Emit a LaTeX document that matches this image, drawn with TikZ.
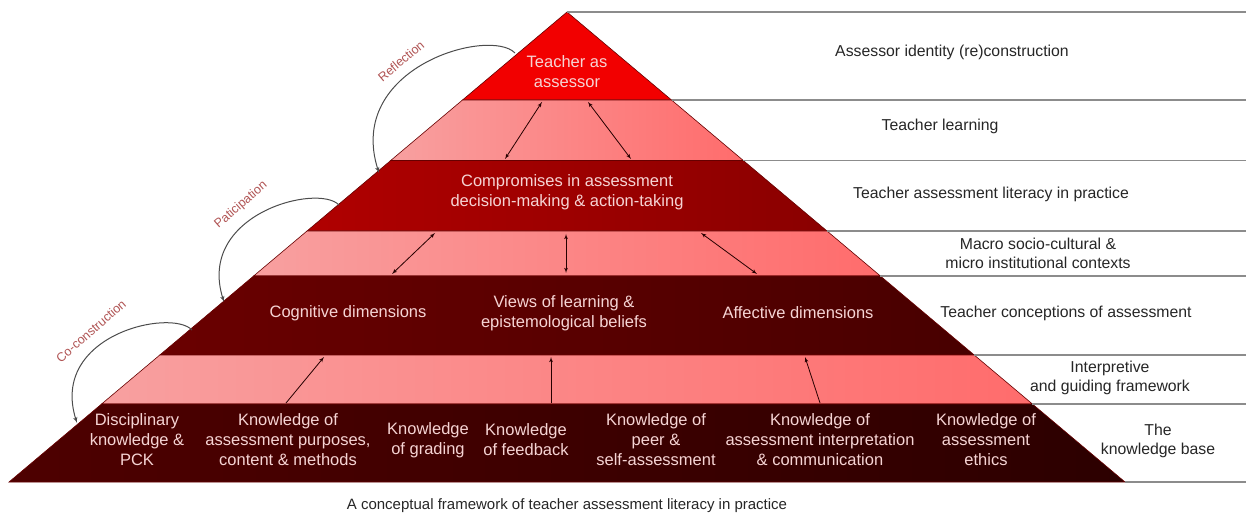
\documentclass[tikz,border=0pt]{standalone}
\usepackage{fontspec}
\setmainfont{Liberation Sans}
\usetikzlibrary{shapes,arrows,positioning}
\definecolor{peak}{RGB}{242,0,0}
\definecolor{pinkleft}{RGB}{248,160,160}
\definecolor{pinkright}{RGB}{255,108,108}
\definecolor{redleft}{RGB}{176,0,0}
\definecolor{redright}{RGB}{138,0,0}
\definecolor{darkleft}{RGB}{106,0,0}
\definecolor{darkright}{RGB}{72,0,0}
\definecolor{baseleft}{RGB}{78,0,0}
\definecolor{baseright}{RGB}{44,0,0}
\definecolor{innertext}{RGB}{246,212,212}
\definecolor{phasetext}{RGB}{176,84,84}
\tikzstyle{band} = [draw=black!60!red, line width=0.6pt]
\tikzstyle{layertext} = [text=innertext, align=center,
    font=\fontsize{16.5}{20}\selectfont]
\tikzstyle{sidetext} = [text=black!85, align=center,
    font=\fontsize{15.8}{19}\selectfont]
\tikzstyle{phaselabel} = [text=phasetext, font=\fontsize{12.5}{14}\selectfont]
\tikzstyle{rule} = [draw=black!45, line width=1.4pt]
\tikzstyle{twoway} = [draw=black!85!red, line width=0.8pt, latex'-latex']
\tikzstyle{line} = [draw=black!85!red, line width=0.8pt, -latex']
\tikzstyle{phaseline} = [draw=black!70, line width=1pt, -latex']
\begin{document}
\begin{tikzpicture}[x=1pt, y=1pt]
    \useasboundingbox (0,0) rectangle (1246,517);
    % Corners of the layers
    \coordinate (apex) at (567,505);
    \coordinate (l1) at (462.5,417); \coordinate (r1) at (671.5,417);
    \coordinate (l2) at (390.7,356.5); \coordinate (r2) at (743.3,356.5);
    \coordinate (l3) at (307,286); \coordinate (r3) at (827,286);
    \coordinate (l4) at (253.6,241); \coordinate (r4) at (880.4,241);
    \coordinate (l5) at (159.8,162); \coordinate (r5) at (974.2,162);
    \coordinate (l6) at (101.6,113); \coordinate (r6) at (1032.4,113);
    \coordinate (l7) at (9,35); \coordinate (r7) at (1125,35);
    \coordinate (edge) at (1246,0);
    % Draw layers
    \filldraw [band, fill=peak] (apex) -- (r1) -- (l1) -- cycle;
    \shadedraw [band, left color=pinkleft, right color=pinkright] (l1) -- (r1) -- (r2) -- (l2) -- cycle;
    \shadedraw [band, left color=redleft, right color=redright] (l2) -- (r2) -- (r3) -- (l3) -- cycle;
    \shadedraw [band, left color=pinkleft, right color=pinkright] (l3) -- (r3) -- (r4) -- (l4) -- cycle;
    \shadedraw [band, left color=darkleft, right color=darkright] (l4) -- (r4) -- (r5) -- (l5) -- cycle;
    \shadedraw [band, left color=pinkleft, right color=pinkright] (l5) -- (r5) -- (r6) -- (l6) -- cycle;
    \shadedraw [band, left color=baseleft, right color=baseright] (l6) -- (r6) -- (r7) -- (l7) -- cycle;
    % Rules to the right
    \draw [rule] (apex) -- (apex -| edge);
    \draw [rule] (r1) -- (r1 -| edge);
    \draw [rule] (r2) -- (r2 -| edge);
    \draw [rule] (r3) -- (r3 -| edge);
    \draw [rule] (r4) -- (r4 -| edge);
    \draw [rule] (r5) -- (r5 -| edge);
    \draw [rule] (r6) -- (r6 -| edge);
    \draw [rule] (r7) -- (r7 -| edge);
    % Place nodes
    \node [layertext] (assessor) at (567,445) {Teacher as\\assessor};
    \node [layertext] (compromise) at (567,325) {Compromises in assessment\\decision-making \& action-taking};
    \node [layertext] (cognitive) at (348,204) {Cognitive dimensions};
    \node [layertext, right of=cognitive, node distance=216pt] (views) {Views of learning \&\\epistemological beliefs};
    \node [layertext, right of=views, node distance=234pt] (affective) {Affective dimensions};
    \node [layertext] (disc) at (137,77) {Disciplinary\\knowledge \&\\PCK};
    \node [layertext, right of=disc, node distance=151pt] (purpose) {Knowledge of\\assessment purposes,\\content \& methods};
    \node [layertext, right of=purpose, node distance=140pt] (grading) {Knowledge\\of grading};
    \node [layertext, right of=grading, node distance=98pt] (feedback) {Knowledge\\of feedback};
    \node [layertext, right of=feedback, node distance=130pt] (peer) {Knowledge of\\peer \&\\self-assessment};
    \node [layertext, right of=peer, node distance=164pt] (interpret) {Knowledge of\\assessment interpretation\\\& communication};
    \node [layertext, right of=interpret, node distance=166pt] (ethics) {Knowledge of\\assessment\\ethics};
    \node [sidetext] (identity) at (952,465) {Assessor identity (re)construction};
    \node [sidetext] (learning) at (940,391) {Teacher learning};
    \node [sidetext] (practice) at (991,323) {Teacher assessment literacy in practice};
    \node [sidetext] (context) at (1038,264) {Macro socio-cultural \&\\micro institutional contexts};
    \node [sidetext] (conception) at (1066,204) {Teacher conceptions of assessment};
    \node [sidetext] (framework) at (1110,139) {Interpretive\\and guiding framework};
    \node [sidetext] (knowbase) at (1158,76) {The\\knowledge base};
    \node [phaselabel, rotate=40] (reflection) at (401,456) {Reflection};
    \node [phaselabel, rotate=41] (participation) at (241,312) {Paticipation};
    \node [phaselabel, rotate=41] (coconstruct) at (91,186) {Co-construction};
    \node [text=black!85, font=\fontsize{15}{18}\selectfont] (caption) at (567,11) {A conceptual framework of teacher assessment literacy in practice};
    % Arrow ends
    \coordinate (a1) at (542,415); \coordinate (b1) at (505,358);
    \coordinate (a2) at (588,415); \coordinate (b2) at (631,358);
    \coordinate (c1) at (435,284); \coordinate (d1) at (392,243);
    \coordinate (c2) at (566,283); \coordinate (d2) at (566,244);
    \coordinate (c3) at (701,284); \coordinate (d3) at (757,243);
    \coordinate (e1) at (286,114); \coordinate (f1) at (324,160);
    \coordinate (e2) at (551,114); \coordinate (f2) at (551,160);
    \coordinate (e3) at (820,114); \coordinate (f3) at (805,160);
    \coordinate (refl start) at (515,464); \coordinate (refl end) at (379,344);
    \coordinate (part start) at (339,312); \coordinate (part end) at (224,215);
    \coordinate (co start) at (192,187); \coordinate (co end) at (77,94);
    % Draw edges
    \path [twoway] (a1) -- (b1);
    \path [twoway] (a2) -- (b2);
    \path [twoway] (c1) -- (d1);
    \path [twoway] (c2) -- (d2);
    \path [twoway] (c3) -- (d3);
    \path [line] (e1) -- (f1);
    \path [line] (e2) -- (f2);
    \path [line] (e3) -- (f3);
    \path [phaseline] (refl start) .. controls (490,490) and (345,450) .. (refl end);
    \path [phaseline] (part start) .. controls (318,334) and (196,303) .. (part end);
    \path [phaseline] (co start) .. controls (171,209) and (49,182) .. (co end);
\end{tikzpicture}
\end{document}
